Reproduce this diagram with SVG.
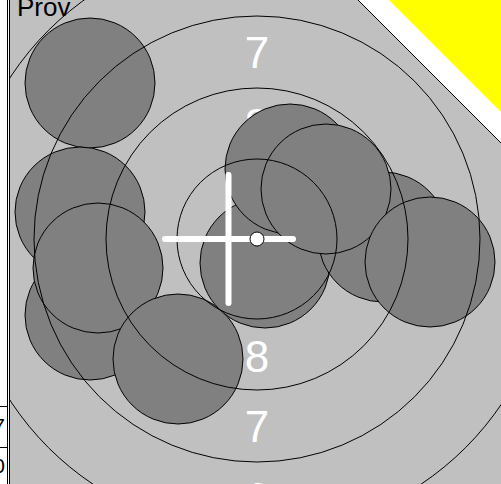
<svg xmlns="http://www.w3.org/2000/svg" width="501" height="484" viewBox="0 0 501 484">
<style>
.hit{fill:#808080;stroke:#000;stroke-width:1}
.ring{fill:none;stroke:#000;stroke-width:1}
.lbl{font-family:"Liberation Sans",Arial,sans-serif;font-size:44px;fill:#fff;text-anchor:middle}
.cell{font-family:"Liberation Sans",Arial,sans-serif;font-size:21px;fill:#000;text-anchor:end}
.cross{stroke:#fff;stroke-width:6;stroke-linecap:round}
</style>
<defs>
<clipPath id="area"><polygon points="10,0 358,0 501,143 501,484 10,484"/></clipPath>
</defs>
<rect x="0" y="0" width="501" height="484" fill="#fff"/>
<g id="table">
<line x1="0" y1="406.5" x2="7" y2="406.5" stroke="#000"/>
<line x1="0" y1="447.5" x2="7" y2="447.5" stroke="#000"/>
<text class="cell" x="5" y="433">7</text>
<text class="cell" x="5" y="473">0</text>
<line x1="7.5" y1="0" x2="7.5" y2="484" stroke="#000"/>
<line x1="9.5" y1="0" x2="9.5" y2="484" stroke="#000"/>
</g>
<polygon points="10,0 358,0 501,143 501,484 10,484" fill="#c0c0c0"/>
<g clip-path="url(#area)">
<g id="labels">
<text class="lbl" x="257" y="68">7</text>
<text class="lbl" x="257" y="140">8</text>
<text class="lbl" x="257" y="372">8</text>
<text class="lbl" x="257" y="442">7</text>
<text class="lbl" x="257" y="514">6</text>
</g>
<g id="hits">
<g id="hit1"><circle class="hit" cx="90" cy="83" r="65"/></g>
<g id="hit2"><circle class="hit" cx="80" cy="212" r="65"/></g>
<g id="hit3"><circle class="hit" cx="90" cy="315" r="65"/></g>
<g id="hit4"><circle class="hit" cx="98" cy="268" r="65"/></g>
<g id="hit5"><circle class="hit" cx="178" cy="359" r="65"/></g>
<g id="hit6"><circle class="hit" cx="265" cy="263" r="65"/></g>
<g id="hit7"><circle class="hit" cx="290" cy="169" r="65"/></g>
<g id="hit8"><circle class="hit" cx="383" cy="237" r="65"/></g>
<g id="hit9"><circle class="hit" cx="326" cy="189" r="65"/></g>
<g id="hit10"><circle class="hit" cx="430" cy="262" r="65"/></g>
</g>
<g id="rings">
<circle class="ring" cx="257" cy="239" r="80"/>
<circle class="ring" cx="257" cy="239" r="151"/>
<circle class="ring" cx="257" cy="239" r="223"/>
<circle class="ring" cx="257" cy="239" r="295"/>
</g>
</g>
<g id="crosshair">
<line class="cross" x1="165" y1="239" x2="293" y2="239"/>
<line class="cross" x1="228.5" y1="175" x2="228.5" y2="303"/>
</g>
<g id="center"><circle cx="257" cy="239" r="7" fill="#fff" stroke="#000" stroke-width="1"/></g>
<line x1="358" y1="0" x2="501" y2="143" stroke="#000" stroke-width="1"/>
<polygon points="389,0 501,0 501,112" fill="#ffff00"/>
<text x="17" y="16" font-family="Liberation Sans, Arial, sans-serif" font-size="26" fill="#000">Prov</text>
</svg>
